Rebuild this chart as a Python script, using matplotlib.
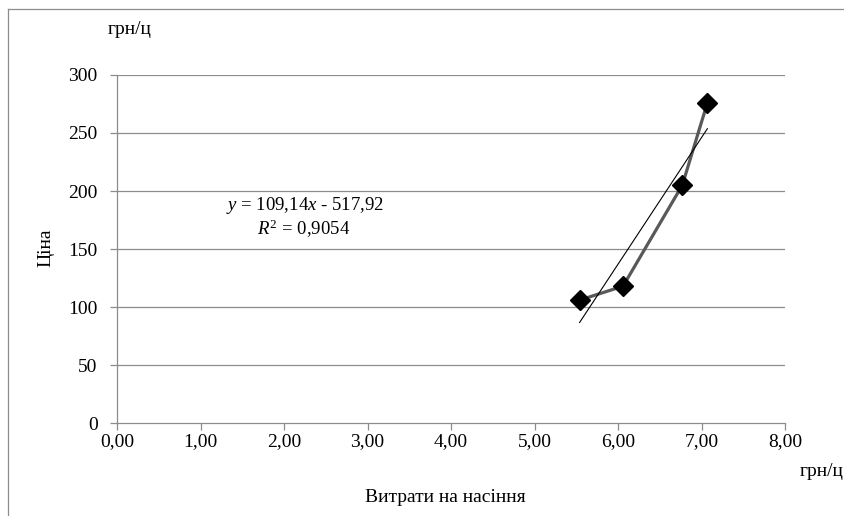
import numpy as np
import matplotlib
matplotlib.use("Agg")
import matplotlib.pyplot as plt
from matplotlib.lines import Line2D

plt.rcParams['font.family'] = ['Liberation Serif', 'DejaVu Serif']
plt.rcParams['mathtext.fontset'] = 'custom'
plt.rcParams['mathtext.rm'] = 'Liberation Serif'
plt.rcParams['mathtext.it'] = 'Liberation Serif:italic'

# data
seed_cost = [5.54, 6.06, 6.77, 7.07]
price = [106, 118, 205, 276]
slope, intercept = 109.14, -517.92
r2 = 0.9054

x_ticks = [0, 1, 2, 3, 4, 5, 6, 7, 8]
y_ticks = [0, 50, 100, 150, 200, 250, 300]

fig = plt.figure(figsize=(8.45, 5.16), dpi=100)
ax = fig.add_axes([0.1385, 0.180, 0.7905, 0.6747])

grid_col = '#8c8c8c'
for yt in y_ticks[1:]:
    ax.axhline(yt, color=grid_col, lw=0.9, zorder=1)

ax.plot(seed_cost, price, color='#595959', lw=2.3, marker='D', markersize=10,
        markerfacecolor='black', markeredgecolor='black', zorder=3)

tx = np.array([min(seed_cost), max(seed_cost)])
ax.plot(tx, slope * tx + intercept, color='black', lw=0.8, zorder=4)

ax.set_xlim(0, 8)
ax.set_ylim(0, 300)
ax.set_xticks(x_ticks)
ax.set_xticklabels([('%.2f' % v).replace('.', ',') for v in x_ticks])
ax.set_yticks(y_ticks)

for s in ['top', 'right']:
    ax.spines[s].set_visible(False)
for s in ['left', 'bottom']:
    ax.spines[s].set_color(grid_col)
    ax.spines[s].set_linewidth(0.9)
ax.tick_params(axis='both', colors=grid_col, labelcolor='black', labelsize=14,
               length=5, width=0.9)
ax.tick_params(axis='x', pad=2)
ax.tick_params(axis='y', pad=9)

fig.text(130 / 845, 1 - 30 / 516, 'грн/ц', fontsize=14, ha='center', va='center')
fig.text(822 / 845, 1 - 471 / 516, 'грн/ц', fontsize=14, ha='center', va='center')
fig.text(445 / 845, 1 - 497 / 516, 'Витрати на насіння', fontsize=14,
         ha='center', va='center')
fig.text(46 / 845, 1 - 248 / 516, 'Ціна', fontsize=14, ha='center', va='center',
         rotation=90)

eq = '$y$ = ' + ('%.2f' % slope).replace('.', ',') + '$x$ - ' + \
     ('%.2f' % -intercept).replace('.', ',')
fig.text(305 / 845, 1 - 206 / 516, eq, fontsize=13.5, ha='center', va='center')
fig.text(304 / 845, 1 - 229 / 516, '$R^2$ = ' + ('%.4f' % r2).replace('.', ','),
         fontsize=13.5, ha='center', va='center')

# outer frame (top and left only visible)
fig.add_artist(Line2D([8 / 845, 1], [1 - 9 / 516, 1 - 9 / 516], color=grid_col, lw=0.9))
fig.add_artist(Line2D([8 / 845, 8 / 845], [0, 1 - 9 / 516], color=grid_col, lw=0.9))

fig.savefig('out.png', dpi=100)
